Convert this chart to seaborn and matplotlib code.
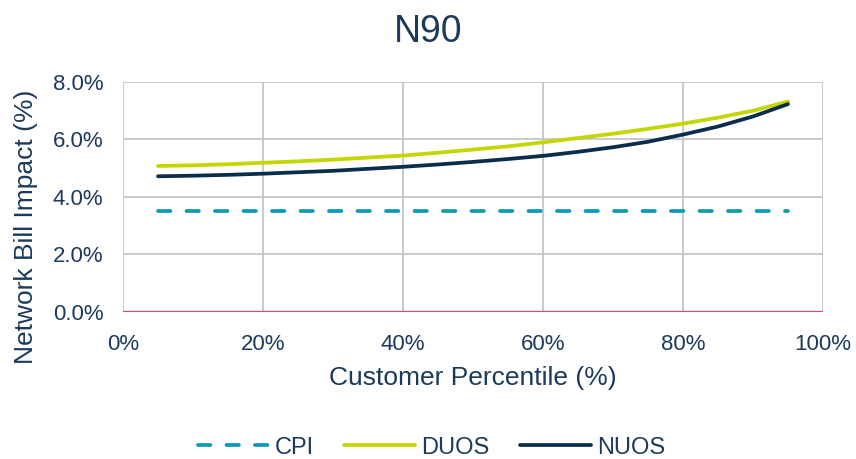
import numpy as np
import pandas as pd
import matplotlib
matplotlib.use("Agg")
import matplotlib.pyplot as plt
import seaborn as sns
from matplotlib.ticker import PercentFormatter

# Data
percentile = [5, 10, 15, 20, 25, 30, 35, 40, 45, 50, 55, 60, 65, 70, 75, 80, 85, 90, 95]
cpi = [3.5] * len(percentile)
duos = [5.08, 5.10, 5.14, 5.19, 5.24, 5.30, 5.37, 5.44, 5.54, 5.65, 5.76, 5.90,
        6.05, 6.20, 6.37, 6.55, 6.76, 7.00, 7.32]
nuos = [4.72, 4.74, 4.77, 4.81, 4.86, 4.91, 4.98, 5.05, 5.13, 5.22, 5.32, 5.43,
        5.57, 5.73, 5.92, 6.17, 6.45, 6.80, 7.23]

df = pd.DataFrame({'Percentile': percentile, 'CPI': cpi, 'DUOS': duos, 'NUOS': nuos})

sns.set_style("white")
plt.rcParams['font.family'] = ['Liberation Sans', 'DejaVu Sans']
text_col = '#1b3a5c'

fig = plt.figure(figsize=(8.56, 4.59), dpi=100)
ax = fig.add_axes([0.1437, 0.3203, 0.8177, 0.5011])

sns.lineplot(data=df, x='Percentile', y='CPI', ax=ax, color='#0a9ab5', lw=2.7,
             label='CPI', dashes=False)
ax.lines[-1].set_dashes((3.3, 4.3))
ax.lines[-1].set_dash_capstyle('round')
sns.lineplot(data=df, x='Percentile', y='DUOS', ax=ax, color='#c4d600', lw=2.7, label='DUOS')
sns.lineplot(data=df, x='Percentile', y='NUOS', ax=ax, color='#0b2d4c', lw=2.7, label='NUOS')

ax.set_xlim(0, 100)
ax.set_ylim(0, 8)
ax.set_xticks(np.arange(0, 101, 20))
ax.set_yticks(np.arange(0, 8.1, 2))
ax.xaxis.set_major_formatter(PercentFormatter(decimals=0))
ax.yaxis.set_major_formatter(PercentFormatter(decimals=1))
ax.grid(True, color='#c3c7ca', lw=1.3)
ax.axhline(0, color='#e8456e', lw=1.6, zorder=3)
for s in ax.spines.values():
    s.set_visible(False)
ax.tick_params(axis='both', length=0, labelsize=16, labelcolor=text_col)
ax.tick_params(axis='x', pad=16)
ax.tick_params(axis='y', pad=14)

ax.set_xlabel('Customer Percentile (%)', fontsize=19, color=text_col, labelpad=8)
ax.set_ylabel('Network Bill Impact (%)', fontsize=19, color=text_col)
ax.yaxis.set_label_coords(-0.121, 0.37)
fig.text(0.5, 0.93, 'N90', fontsize=27, color=text_col, ha='center', va='center')

ax.legend_.remove()
handles, labels = ax.get_legend_handles_labels()
leg = fig.legend(handles, labels, loc='center', bbox_to_anchor=(0.504, 0.025), ncol=3,
                 frameon=False, fontsize=17, handlelength=3, handletextpad=0.25,
                 columnspacing=1.3)
for t in leg.get_texts():
    t.set_color(text_col)

fig.savefig('out.png', dpi=100)
